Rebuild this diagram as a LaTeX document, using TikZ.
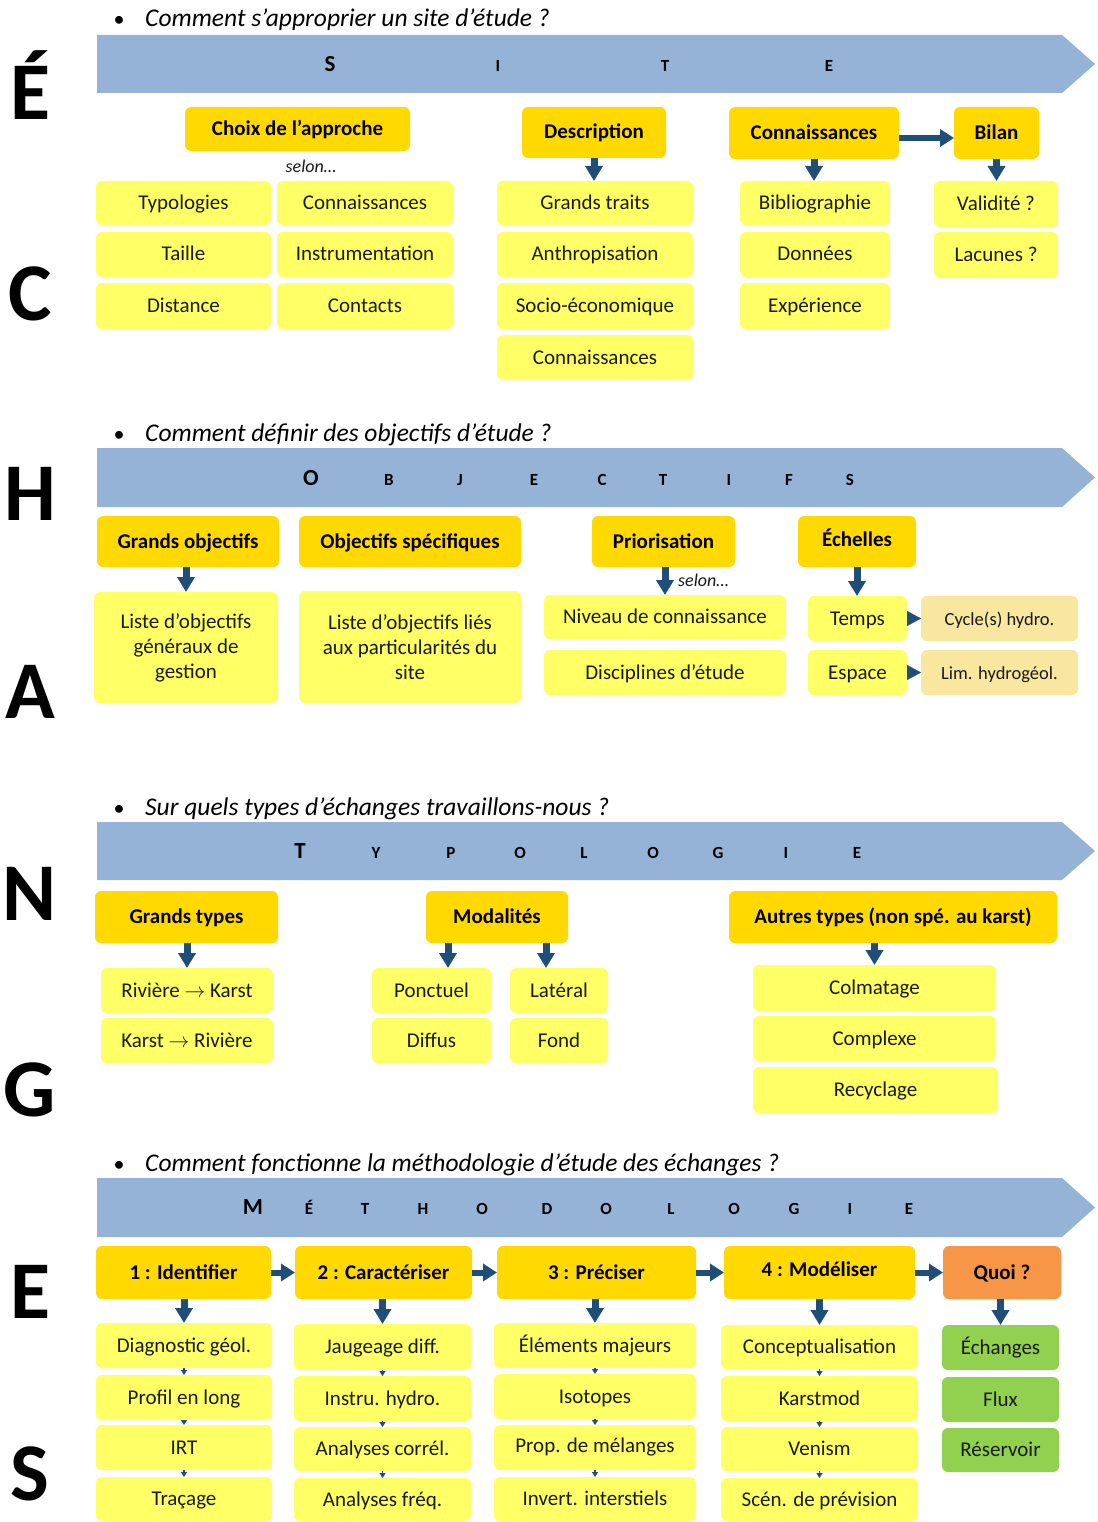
\documentclass[tikz,border=0pt]{standalone}
\usepackage{fontspec}
\setmainfont{Carlito}
\usetikzlibrary{arrows.meta,calc}
\definecolor{hdrY}{HTML}{FFD900}
\definecolor{subY}{HTML}{FFFF66}
\definecolor{tanC}{HTML}{F9E79F}
\definecolor{banC}{HTML}{95B3D7}
\definecolor{orgC}{HTML}{F79646}
\definecolor{grnC}{HTML}{92D050}
\definecolor{arrC}{HTML}{1F4E79}
\definecolor{txtC}{HTML}{1A1A1A}
\newcommand\mybox[7]{%
  \pgfmathsetmacro\bxcx{(#3+#5)/2}%
  \pgfmathsetmacro\bxcy{(#4+#6)/2}%
  \pgfmathsetmacro\bxw{#5-#3}%
  \pgfmathsetmacro\bxh{#6-#4}%
  \node[#1, minimum width=\bxw pt, minimum height=\bxh pt, inner sep=0pt, outer sep=0pt] (#2) at (\bxcx,\bxcy) {#7};%
}
\newcommand\banner[2]{%
  \pgfmathsetmacro\bnm{(#1+#2)/2}%
  \fill[banC] (97,#1) -- (1062,#1) -- (1095,\bnm) -- (1062,#2) -- (97,#2) -- cycle;%
}
\tikzset{
  hdr/.style={fill=hdrY, rounded corners=6pt, font=\bfseries\fontsize{21}{25}\selectfont, text=black, text height=16pt, text depth=3pt},
  sub/.style={fill=subY, rounded corners=6pt, font=\fontsize{21}{25}\selectfont, text=txtC, text height=16pt, text depth=3pt},
  subml/.style={fill=subY, rounded corners=6pt, text=txtC, align=center, font=\fontsize{21}{25}\selectfont},
  tanbox/.style={sub, fill=tanC, font=\fontsize{18.5}{22}\selectfont},
  grnbox/.style={sub, fill=grnC},
  orgbox/.style={hdr, fill=orgC},
  darr/.style={draw=arrC, line width=7pt, -{Triangle[width=17pt,length=15pt,fill=arrC]}},
  harr/.style={draw=arrC, line width=6pt, -{Triangle[width=17pt,length=14pt,fill=arrC]}},
  tri/.style={draw=arrC, line width=0.1pt, -{Triangle[width=15pt,length=14pt,fill=arrC]}},
  tarr/.style={draw=arrC, line width=1.5pt, -{Triangle[width=6pt,length=5pt,fill=arrC]}},
  quest/.style={font=\itshape\fontsize{25.5}{29}\selectfont, anchor=base west, inner sep=0pt},
  bul/.style={font=\fontsize{22}{26}\selectfont, anchor=base, inner sep=0pt},
  bigl/.style={font=\bfseries\fontsize{82}{90}\selectfont, anchor=base, inner sep=0pt},
  bl/.style={font=\bfseries\fontsize{17}{20}\selectfont, anchor=base, inner sep=0pt},
  blf/.style={font=\bfseries\fontsize{23}{26}\selectfont, anchor=base, inner sep=0pt},
  selon/.style={font=\itshape\fontsize{18}{21}\selectfont, inner sep=0pt, text=txtC}
}
\begin{document}
\begin{tikzpicture}[x=1pt,y=-1pt]
\useasboundingbox (0,0) rectangle (1097,1522);
\fill[white] (0,0) rectangle (1097,1522);

% big side letters
\node[bigl] (L1) at (30,120) {É};
\node[bigl] (L2) at (30,320) {C};
\node[bigl] (L3) at (30,520) {H};
\node[bigl] (L4) at (30,718) {A};
\node[bigl] (L5) at (30,920) {N};
\node[bigl] (L6) at (30,1116) {G};
\node[bigl] (L7) at (30,1318) {E};
\node[bigl] (L8) at (30,1500) {S};

% ===== Section 1 =====
\node[bul] (b1) at (119,27) {•};
\node[quest] (q1) at (145,27) {Comment s’approprier un site d’étude ?};
\banner{35}{93}
\node[blf] (k1) at (330,72) {S};
\foreach \x/\l [count=\i] in {498/I,665/T,829/E}{\node[bl] (k1\i) at (\x,72) {\l};}

\mybox{hdr}{s1a}{185}{107}{410}{151}{Choix de l’approche}
\mybox{hdr}{s1b}{522}{107}{666}{158}{Description}
\mybox{hdr}{s1c}{729}{107}{899}{159}{Connaissances}
\mybox{hdr}{s1d}{954}{107}{1039}{159}{Bilan}
\node[selon, anchor=base] (sel1) at (311,173) {selon…};

\mybox{sub}{a1}{96}{181}{271}{225}{Typologies}
\mybox{sub}{a2}{277}{181}{453}{225}{Connaissances}
\mybox{sub}{a3}{96}{232}{271}{277}{Taille}
\mybox{sub}{a4}{277}{232}{453}{277}{Instrumentation}
\mybox{sub}{a5}{96}{283}{271}{329}{Distance}
\mybox{sub}{a6}{277}{283}{453}{329}{Contacts}

\mybox{sub}{bb1}{497}{181}{693}{225}{Grands traits}
\mybox{sub}{bb2}{497}{232}{693}{277}{Anthropisation}
\mybox{sub}{bb3}{497}{283}{693}{329}{Socio-économique}
\mybox{sub}{bb4}{497}{335}{693}{380}{Connaissances}

\mybox{sub}{c1}{740}{181}{890}{225}{Bibliographie}
\mybox{sub}{c2}{740}{232}{890}{277}{Données}
\mybox{sub}{c3}{740}{283}{890}{329}{Expérience}

\mybox{sub}{d1}{934}{181}{1058}{227}{Validité ?}
\mybox{sub}{d2}{934}{232}{1058}{278}{Lacunes ?}

\draw[darr] (s1b.south) -- (s1b.south |- bb1.north);
\draw[darr] (s1c.south) -- (s1c.south |- c1.north);
\draw[darr] (s1d.south) -- (s1d.south |- d1.north);
\draw[harr] ([yshift=-5pt]s1c.east) -- ([yshift=-5pt]s1d.west);

% ===== Section 2 =====
\node[bul] (b2) at (119,441) {•};
\node[quest] (q2) at (145,441) {Comment définir des objectifs d’étude ?};
\banner{448}{507}
\node[blf] (k2) at (311,485) {O};
\foreach \x/\l [count=\i] in {389/B,460/J,534/E,602/C,663/T,729/I,789/F,850/S}{\node[bl] (k2\i) at (\x,485) {\l};}

\mybox{hdr}{g2a}{97}{516}{279}{567}{Grands objectifs}
\mybox{hdr}{g2b}{299}{516}{521}{567}{Objectifs spécifiques}
\mybox{hdr}{g2c}{592}{516}{735}{567}{Priorisation}
\mybox{hdr}{g2d}{798}{516}{916}{567}{\raisebox{2pt}{Échelles}}

\mybox{subml}{h1}{94}{592}{278}{703}{Liste d’objectifs\\généraux de\\gestion}
\mybox{subml}{h2}{299}{591}{521}{703}{Liste d’objectifs liés\\aux particularités du\\site}
\mybox{sub}{h3}{544}{595}{786}{639}{Niveau de connaissance}
\mybox{sub}{h4}{544}{650}{786}{695}{Disciplines d’étude}
\mybox{sub}{h5}{808}{596}{907}{641}{Temps}
\mybox{sub}{h6}{808}{650}{907}{695}{Espace}
\mybox{tanbox}{h7}{921}{596}{1078}{641}{Cycle(s) hydro.}
\mybox{tanbox}{h8}{921}{650}{1078}{695}{Lim. hydrogéol.}

\draw[darr] (h1.north |- g2a.south) -- (h1.north);
\draw[darr] (h3.north |- g2c.south) -- (h3.north);
\draw[darr] (g2d.south) -- (g2d.south |- h5.north);
\node[selon, anchor=base west] (sel2) at (678,586) {selon…};
\draw[tri] (h5.east) -- (h7.west);
\draw[tri] (h6.east) -- (h8.west);

% ===== Section 3 =====
\node[bul] (b3) at (119,815) {•};
\node[quest] (q3) at (145,815) {Sur quels types d’échanges travaillons-nous ?};
\banner{822}{880}
\node[blf] (k3) at (300,858) {T};
\foreach \x/\l [count=\i] in {376/Y,451/P,520/O,584/L,653/O,718/G,786/I,857/E}{\node[bl] (k3\i) at (\x,858) {\l};}

\mybox{hdr}{t1}{95}{891}{278}{943}{Grands types}
\mybox{hdr}{t2}{426}{891}{568}{943}{Modalités}
\mybox{hdr}{t3}{729}{891}{1057}{943}{Autres types (non spé. au karst)}

\mybox{sub}{u1}{101}{968}{273}{1013}{Rivière $\rightarrow$ Karst}
\mybox{sub}{u2}{101}{1018}{273}{1063}{Karst $\rightarrow$ Rivière}
\mybox{sub}{u3}{372}{968}{491}{1013}{Ponctuel}
\mybox{sub}{u4}{372}{1018}{491}{1063}{Diffus}
\mybox{sub}{u5}{510}{968}{608}{1013}{Latéral}
\mybox{sub}{u6}{510}{1018}{608}{1063}{Fond}
\mybox{sub}{u7}{753}{965}{996}{1011}{Colmatage}
\mybox{sub}{u8}{753}{1016}{996}{1061}{Complexe}
\mybox{sub}{u9}{753}{1067}{998}{1113}{Recyclage}

\draw[darr] (u1.north |- t1.south) -- (u1.north);
\draw[darr] ([xshift=-49pt]t2.south) -- ([xshift=-49pt]t2.south |- u3.north);
\draw[darr] ([xshift=49pt]t2.south) -- ([xshift=49pt]t2.south |- u5.north);
\draw[darr] (u7.north |- t3.south) -- (u7.north);

% ===== Section 4 =====
\node[bul] (b4) at (119,1171) {•};
\node[quest] (q4) at (145,1171) {Comment fonctionne la méthodologie d’étude des échanges ?};
\banner{1178}{1237}
\node[blf] (k4) at (253,1214) {M};
\foreach \x/\l [count=\i] in {309/É,365/T,423/H,482/O,547/D,606/O,671/L,734/O,794/G,850/I,909/E}{\node[bl] (k4\i) at (\x,1214) {\l};}

\mybox{hdr}{m1}{96}{1246}{271}{1299}{1 : Identifier}
\mybox{hdr}{m2}{295}{1246}{472}{1299}{2 : Caractériser}
\mybox{hdr}{m3}{497}{1246}{696}{1299}{3 : Préciser}
\mybox{hdr}{m4}{724}{1246}{915}{1299}{\raisebox{3pt}{4 : Modéliser}}
\mybox{orgbox}{m5}{943}{1246}{1061}{1299}{Quoi ?}

\mybox{sub}{p11}{96}{1323}{272}{1368}{Diagnostic géol.}
\mybox{sub}{p12}{96}{1375}{272}{1420}{Profil en long}
\mybox{sub}{p13}{96}{1425}{272}{1470}{IRT}
\mybox{sub}{p14}{96}{1477}{272}{1521}{Traçage}

\mybox{sub}{p21}{294}{1324}{471}{1370}{Jaugeage diff.}
\mybox{sub}{p22}{294}{1376}{471}{1421}{Instru. hydro.}
\mybox{sub}{p23}{294}{1427}{471}{1471}{Analyses corrél.}
\mybox{sub}{p24}{294}{1478}{471}{1521}{Analyses fréq.}

\mybox{sub}{p31}{494}{1323}{696}{1368}{Éléments majeurs}
\mybox{sub}{p32}{494}{1374}{696}{1419}{Isotopes}
\mybox{sub}{p33}{494}{1425}{696}{1470}{\raisebox{2pt}{Prop. de mélanges}}
\mybox{sub}{p34}{494}{1477}{696}{1521}{Invert. interstiels}

\mybox{sub}{p41}{721}{1325}{918}{1369}{Conceptualisation}
\mybox{sub}{p42}{721}{1376}{918}{1421}{Karstmod}
\mybox{sub}{p43}{721}{1427}{918}{1471}{Venism}
\mybox{sub}{p44}{721}{1478}{918}{1521}{Scén. de prévision}

\mybox{grnbox}{p51}{942}{1325}{1059}{1370}{Échanges}
\mybox{grnbox}{p52}{942}{1377}{1059}{1422}{Flux}
\mybox{grnbox}{p53}{942}{1428}{1059}{1472}{Réservoir}

\draw[harr] (m1.east) -- (m2.west);
\draw[harr] (m2.east) -- (m3.west);
\draw[harr] (m3.east) -- (m4.west);
\draw[harr] (m4.east) -- (m5.west);

\draw[darr] (p11.north |- m1.south) -- (p11.north);
\draw[darr] (p21.north |- m2.south) -- (p21.north);
\draw[darr] (p31.north |- m3.south) -- (p31.north);
\draw[darr] (p41.north |- m4.south) -- (p41.north);
\draw[darr] (p51.north |- m5.south) -- (p51.north);

\foreach \c in {1,2,3,4}{
  \draw[tarr] (p\c1.south) -- (p\c1.south |- p\c2.north);
  \draw[tarr] (p\c2.south) -- (p\c2.south |- p\c3.north);
  \draw[tarr] (p\c3.south) -- (p\c3.south |- p\c4.north);
}
\end{tikzpicture}
\end{document}
